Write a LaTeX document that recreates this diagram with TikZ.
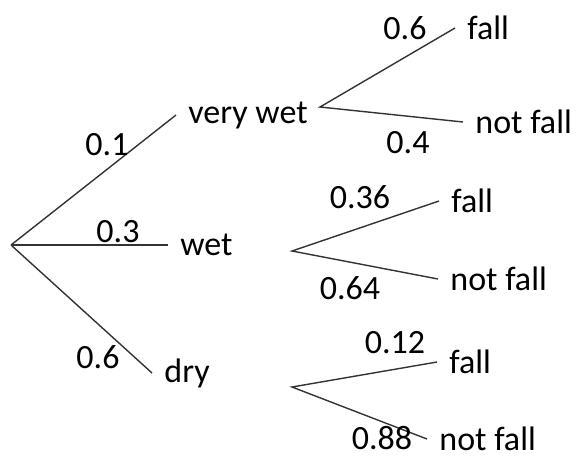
\documentclass[tikz,border=0pt]{standalone}
\usepackage{fontspec}
\setmainfont{Carlito}
\tikzset{
    outcome/.style={anchor=west, inner xsep=6pt, inner ysep=1pt, font=\fontsize{17}{20}\selectfont},
    prob/.style={inner sep=1pt, font=\fontsize{17}{20}\selectfont},
    branch/.style={draw=black!80, line width=0.7pt}
}
\begin{document}
\begin{tikzpicture}[x=0.5pt, y=-0.5pt]
    \useasboundingbox (0, 0) rectangle (577, 457);

    % Branch points
    \coordinate (root) at (11, 245);
    \coordinate (bvw) at (320, 107);
    \coordinate (bwet) at (292, 251);
    \coordinate (bdry) at (292, 387);

    % First stage
    \node[outcome] (vw) at (176, 115) {very wet};
    \node[outcome] (wet) at (168, 245) {wet};
    \node[outcome] (dry) at (152, 373) {dry};
    \foreach \n in {vw, wet, dry} {
        \draw[branch] (root) -- (\n.west);
    }

    % Second stage
    \node[outcome] (fvw) at (455, 28) {fall};
    \node[outcome] (nfvw) at (463, 122) {not fall};
    \node[outcome] (fwet) at (439, 201) {fall};
    \node[outcome] (nfwet) at (438, 279) {not fall};
    \node[outcome] (fdry) at (437, 362) {fall};
    \node[outcome] (nfdry) at (427, 439) {not fall};
    \foreach \b/\f/\nf in {bvw/fvw/nfvw, bwet/fwet/nfwet, bdry/fdry/nfdry} {
        \draw[branch] (\f.west) -- (\b) -- (\nf.west);
    }

    % Probabilities
    \node[prob] (pvw) at (107, 145) {0.1};
    \node[prob] (pwet) at (118, 232) {0.3};
    \node[prob] (pdry) at (98, 357) {0.6};
    \node[prob] (pfvw) at (405, 28) {0.6};
    \node[prob] (pnfvw) at (408, 143) {0.4};
    \node[prob] (pfwet) at (360, 197) {0.36};
    \node[prob] (pnfwet) at (350, 288) {0.64};
    \node[prob] (pfdry) at (395, 343) {0.12};
    \node[prob] (pnfdry) at (382, 438) {0.88};
\end{tikzpicture}
\end{document}
